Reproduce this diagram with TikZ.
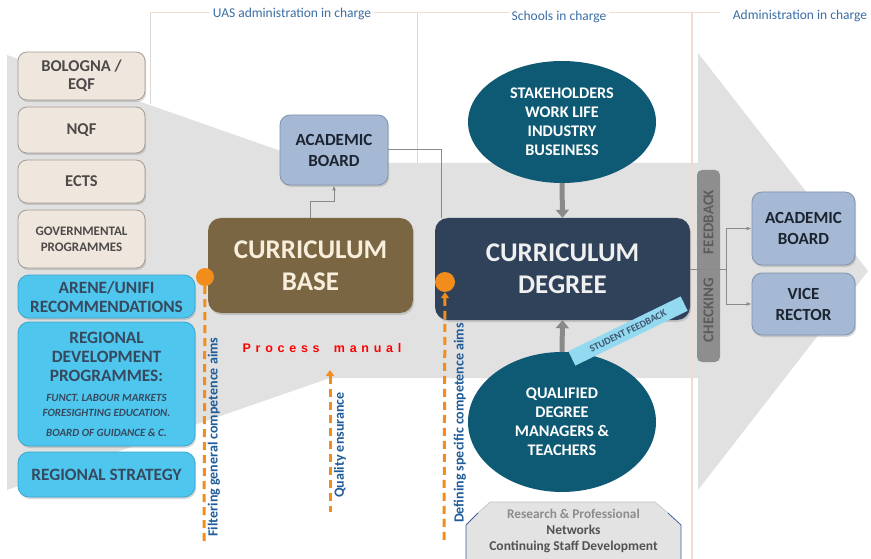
\documentclass[tikz,border=0pt]{standalone}
\usepackage{fontspec}
\setmainfont{Carlito}
\newfontfamily\pmfont[LetterSpace=38]{Liberation Sans}
\usetikzlibrary{arrows.meta,shadows,shapes.geometric,calc}
\definecolor{bggray}{HTML}{E1E1E1}
\definecolor{beigeF}{HTML}{EFE6DE}
\definecolor{beigeB}{HTML}{A59D95}
\definecolor{beigeT}{HTML}{4D4A48}
\definecolor{cyanF}{HTML}{4FC6EE}
\definecolor{cyanB}{HTML}{3AA5CF}
\definecolor{cyanT}{HTML}{36495E}
\definecolor{abF}{HTML}{A6B9D4}
\definecolor{abB}{HTML}{8191AA}
\definecolor{abT}{HTML}{1B2430}
\definecolor{cbF}{HTML}{7B6644}
\definecolor{cbT}{HTML}{F7EEDC}
\definecolor{cdF}{HTML}{2F4259}
\definecolor{elF}{HTML}{0E5A74}
\definecolor{orng}{HTML}{F28C1B}
\definecolor{vtxt}{HTML}{1F5C99}
\definecolor{hdr}{HTML}{3A6EA5}
\definecolor{barF}{HTML}{8E8E8E}
\definecolor{barT}{HTML}{5C5C5C}
\definecolor{sfF}{HTML}{93DAF0}
\definecolor{sfT}{HTML}{3F5570}
\definecolor{resF}{HTML}{E3E3E3}
\definecolor{resB}{HTML}{3B5FA0}
\definecolor{conG}{HTML}{8A8A8A}
\definecolor{faint}{HTML}{F1DDD0}
\begin{document}
\begin{tikzpicture}[x=1pt,y=-1pt,
  shad/.style={drop shadow={shadow xshift=1.2pt,shadow yshift=-2pt,opacity=0.3}},
  beige/.style={draw=beigeB,fill=beigeF,rounded corners=9pt,line width=0.8pt,text=beigeT,
    font=\bfseries\fontsize{16.5}{18}\selectfont,align=center,inner sep=0pt,minimum width=127pt,shad},
  cyanbox/.style={draw=cyanB,fill=cyanF,rounded corners=11pt,line width=0.8pt,text=cyanT,
    font=\bfseries\fontsize{17.3}{19}\selectfont,align=center,inner sep=0pt,minimum width=177pt,shad},
  abox/.style={draw=abB,fill=abF,rounded corners=10pt,line width=0.8pt,text=abT,
    font=\bfseries\fontsize{17}{21}\selectfont,align=center,inner sep=0pt,shad},
  curr/.style={rounded corners=13pt,font=\bfseries\fontsize{27}{32}\selectfont,align=center,inner sep=0pt,shad},
  ell/.style={ellipse,fill=elF,text=white,font=\bfseries\fontsize{16.2}{19}\selectfont,align=center,inner sep=0pt},
  conn/.style={draw=conG,line width=1pt},
  bigarr/.style={draw=conG,line width=5pt,-{Triangle[width=13pt,length=8pt]}},
  odash/.style={draw=orng,line width=3pt,dash pattern=on 8pt off 5pt},
  odot/.style={circle,fill=orng,minimum size=18pt,inner sep=0pt},
  vlabel/.style={text=vtxt,font=\bfseries\fontsize{14}{16}\selectfont,inner sep=0pt},
  hlabel/.style={text=hdr,font=\fontsize{13.5}{15}\selectfont,fill=white,inner sep=3pt}]
\useasboundingbox (0,0) rectangle (871,559);
\fill[white] (0,0) rectangle (871,559);
% background arrow
\fill[bggray] (7,55) -- (315,163) -- (698,163) -- (698,53) -- (868,271) -- (698,490)
  -- (698,378) -- (330,378) -- (7,490) -- cycle;
% faint guide lines
\draw[faint,line width=1pt] (150,13) -- (720,13);
\draw[black!15,line width=0.8pt] (150,13) -- (150,104);
\draw[black!15,line width=0.8pt] (417,13) -- (417,163);
\draw[faint,line width=1.2pt] (692,13) -- (692,559);
% headers
\node[hlabel] (h1) at (292,14) {UAS administration in charge};
\node[hlabel] (h2) at (559,17) {Schools in charge};
\node[hlabel] (h3) at (800,16) {Administration in charge};
% left boxes
\node[beige,minimum height=48pt] (bol) at (81.5,76) {BOLOGNA /\\EQF};
\node[beige,minimum height=46pt] (nqf) at (81.5,130) {NQF};
\node[beige,minimum height=43pt] (ects) at (81.5,181.5) {ECTS};
\node[beige,minimum height=58pt,font=\bfseries\fontsize{13}{16}\selectfont] (gov) at (81.5,239) {GOVERNMENTAL\\PROGRAMMES};
\node[cyanbox,minimum height=43pt] (arene) at (106.5,296.5) {ARENE/UNIFI\\RECOMMENDATIONS};
\node[cyanbox,minimum height=124pt] (rdp) at (106.5,384) {REGIONAL\\DEVELOPMENT\\PROGRAMMES:\\[1pt]
  {\fontsize{11}{11}\selectfont\itshape FUNCT. LABOUR MARKETS}\\[-4pt]
  {\fontsize{11}{11}\selectfont\itshape FORESIGHTING EDUCATION.}\\[1pt]
  {\fontsize{11}{11}\selectfont\itshape BOARD OF GUIDANCE \& C.}};
\node[cyanbox,minimum height=45pt] (rs) at (106.5,474.5) {REGIONAL STRATEGY};
% academic board (top)
\node[abox,minimum width=108pt,minimum height=70pt] (ab) at (334,150) {ACADEMIC\\BOARD};
% curriculum boxes
\node[curr,fill=cbF,text=cbT,minimum width=205pt,minimum height=95pt] (cb) at (310.5,265.5) {CURRICULUM\\BASE};
\node[curr,fill=cdF,text=white!94!black,minimum width=255pt,minimum height=102pt] (cd) at (562.5,269) {CURRICULUM\\DEGREE};
% ellipses
\node[ell,minimum width=188pt,minimum height=122pt] (sh) at (562,122) {STAKEHOLDERS\\WORK LIFE\\INDUSTRY\\BUSEINESS};
\node[ell,minimum width=188pt,minimum height=140pt] (qm) at (562,422) {QUALIFIED\\DEGREE\\MANAGERS \&\\TEACHERS};
% right boxes
\node[abox,minimum width=103pt,minimum height=73pt] (rab) at (803.5,228.5) {ACADEMIC\\BOARD};
\node[abox,minimum width=103pt,minimum height=62pt] (vr) at (803.5,304) {VICE\\RECTOR};
% checking feedback bar
\node[rotate=90,fill=barF,rounded corners=5pt,minimum width=192pt,minimum height=23pt,inner sep=0pt,
  text=barT,font=\bfseries\fontsize{15}{16}\selectfont] (chk) at (708.5,266) {CHECKING\hspace{24pt}FEEDBACK};
% student feedback tag
\node[rotate=26,fill=sfF,minimum width=125pt,minimum height=16pt,inner sep=0pt,text=sfT,
  font=\bfseries\fontsize{10}{11}\selectfont] (sf) at (628,331) {STUDENT FEEDBACK};
% research box
\fill[resF] (466,559) -- (466,525) -- (490,502) -- (655,502) -- (681,525) -- (681,559) -- cycle;
\draw[black!25,line width=0.6pt] (478,513) -- (490,502) -- (655,502) -- (668,513);
\draw[resB,line width=0.8pt] (466,559) -- (466,525) -- (478,513);
\draw[resB,line width=0.8pt] (681,559) -- (681,525) -- (668,513);
\node[align=center,inner sep=0pt,font=\bfseries\fontsize{13.5}{16}\selectfont] (res) at (573.5,531) {%
  {\color{black!45}\fontsize{13.3}{16}\selectfont Research \& Professional}\\
  {\color{black!68}Networks}\\
  {\color{black!68}Continuing Staff Development}};
% connectors
\draw[conn,-{Latex[length=5pt,width=4pt]}] (cb.north) -- ++(0,-16) -| (ab.south);
\draw[conn] (ab.east) -| ($(cd.north west)+(7,0)$);
\draw[bigarr] (sh.south) -- (cd.north);
\draw[bigarr] (qm.north) -- (cd.south);
\coordinate (jn) at (726,269);
\draw[conn] (cd.east) -- (jn);
\draw[conn,-{Latex[length=5pt,width=4pt]}] (jn) |- (rab.west);
\draw[conn,-{Latex[length=5pt,width=4pt]}] (jn) |- (vr.west);
% orange lines and dots
\node[odot] (d1) at (205,277) {};
\coordinate (d1e) at (204,546);
\draw[odash] (d1.south) -- (d1e);
\node[vlabel,rotate=90] (ft) at (214,437) {Filtering general competence aims};
\node[odot,minimum size=20pt] (d2) at (445,282) {};
\coordinate (d2e) at (444,541);
\draw[odash,{Triangle[width=8pt,length=6pt]}-] (d2.south) -- (d2e);
\node[vlabel,rotate=90] (dt) at (460,423) {Defining specific competence aims};
\coordinate (q1) at (330,370);
\coordinate (q2) at (330,512);
\draw[odash,{Triangle[width=8pt,length=6pt]}-] (q1) -- (q2);
\node[vlabel,rotate=90] (qt) at (340,445) {Quality ensurance};
% process manual
\node[text=red,font=\pmfont\bfseries\fontsize{12.5}{14}\selectfont,inner sep=0pt] (pm) at (322,348) {Process\hspace{6pt} manual};
\end{tikzpicture}
\end{document}
